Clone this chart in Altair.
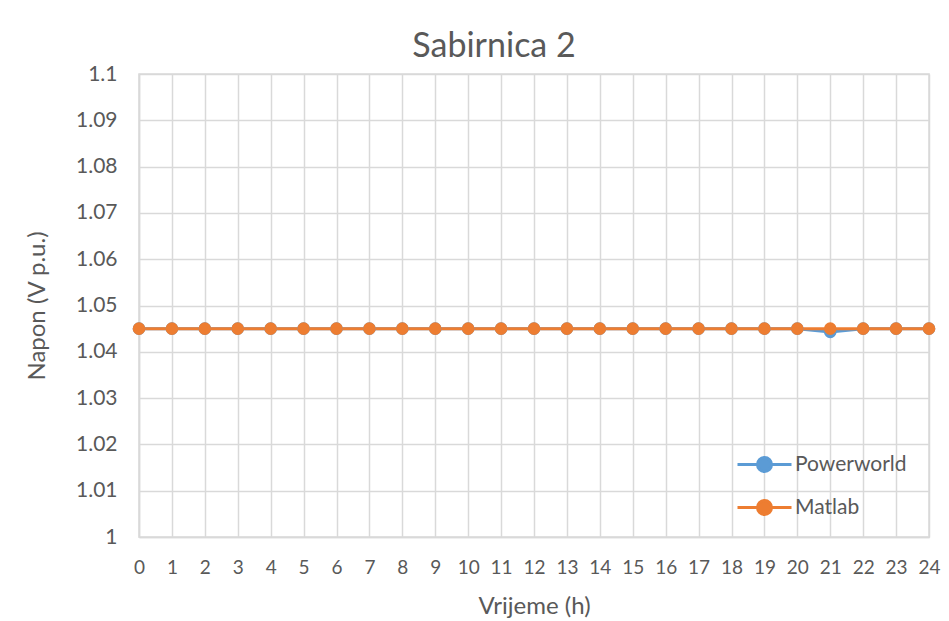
import altair as alt
import pandas as pd

hours = list(range(25))
powerworld = [1.045] * 21 + [1.0443] + [1.045] * 3
matlab = [1.045] * 25
series_names = ["Powerworld", "Matlab"]
colors = ["#5B9BD5", "#ED7D31"]
y_ticks = [round(1 + 0.01 * i, 2) for i in range(11)]

rows = []
for h, v in zip(hours, powerworld):
    rows.append({"h": h, "v": v, "s": "Powerworld", "o": 0})
for h, v in zip(hours, matlab):
    rows.append({"h": h, "v": v, "s": "Matlab", "o": 1})
df = pd.DataFrame(rows)

FONT = "Lato"
sym = "M-1.5,0L1.5,0M-0.39,0A0.39,0.39,0,1,1,0.39,0A0.39,0.39,0,1,1,-0.39,0Z"

chart = alt.Chart(df).mark_line(
    strokeWidth=3,
    point=alt.OverlayMarkDef(filled=True, size=160, opacity=1),
).encode(
    x=alt.X("h:Q", scale=alt.Scale(domain=[0, 24], nice=False),
            axis=alt.Axis(values=hours, title="Vrijeme (h)", titlePadding=17,
                          labelPadding=21, tickSize=0, grid=True, labelOverlap=False,
                          labelFontSize=19, labelFlush=False)),
    y=alt.Y("v:Q", scale=alt.Scale(domain=[1, 1.1], nice=False),
            axis=alt.Axis(values=y_ticks, format="~g", title="Napon (V p.u.)",
                          titlePadding=26, labelPadding=22, tickSize=0, grid=True,
                          labelOverlap=False)),
    color=alt.Color("s:N", scale=alt.Scale(domain=series_names, range=colors),
                    legend=alt.Legend(title=None, orient="none", legendX=606, legendY=371,
                                      symbolType=sym, symbolSize=1296, symbolStrokeWidth=3,
                                      labelOffset=11, rowPadding=10, labelFontSize=21,
                                      labelColor="#595959", labelFont=FONT)),
    order="o:Q",
    detail="s:N",
).properties(
    width=790,
    height=463,
    title=alt.Title("Sabirnica 2", fontSize=34, font=FONT, fontWeight="normal",
                    color="#595959", anchor="middle", dx=-40, offset=-1),
    autosize=alt.AutoSizeParams(type="none"),
    padding={"left": 131, "top": 66, "right": 12, "bottom": 84},
).configure_view(
    stroke="#D9D9D9", strokeWidth=1.5
).configure_axis(
    gridColor="#D9D9D9", gridWidth=1.5, domainColor="#D9D9D9", domainWidth=1.5,
    labelFont=FONT, labelFontSize=21, labelColor="#595959",
    titleFont=FONT, titleFontSize=24, titleColor="#595959", titleFontWeight="normal",
)

chart.save("out.html", embed_options={"renderer": "svg", "actions": False})
